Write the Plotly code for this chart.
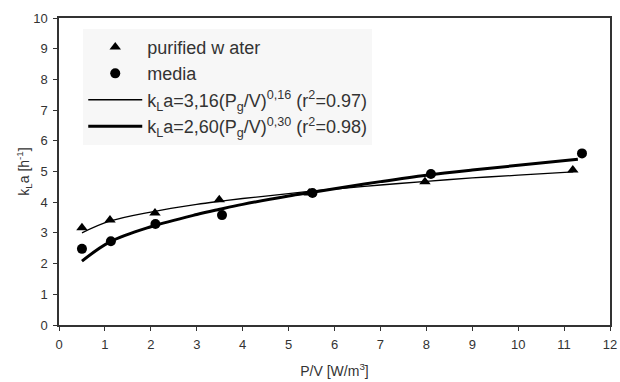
import plotly.graph_objects as go

# measured data
water_x = [0.50, 1.11, 2.09, 3.49, 5.45, 7.97, 11.19]
water_y = [3.17, 3.42, 3.65, 4.08, 4.30, 4.67, 5.05]
media_x = [0.50, 1.13, 2.10, 3.55, 5.52, 8.10, 11.39]
media_y = [2.48, 2.73, 3.29, 3.58, 4.30, 4.92, 5.59]

# fitted curves
fit1_x = [0.5, 1.1, 2.0, 3.0, 3.5, 4.0, 5.0, 5.5, 6.0, 7.0, 8.0, 9.0, 10.0, 11.2]
fit1_y = [3.00, 3.38, 3.68, 3.93, 4.03, 4.12, 4.28, 4.36, 4.43, 4.56, 4.68, 4.79, 4.88, 4.99]
fit2_x = [0.5, 1.1, 2.0, 3.0, 3.5, 4.0, 5.0, 5.5, 6.0, 7.0, 8.0, 9.0, 10.0, 11.3]
fit2_y = [2.08, 2.70, 3.20, 3.60, 3.77, 3.93, 4.20, 4.32, 4.44, 4.67, 4.88, 5.05, 5.20, 5.40]

x_ticks = list(range(0, 13))
y_ticks = list(range(0, 11))

font_family = "Liberation Sans, Arial, sans-serif"

fig = go.Figure()
fig.add_trace(go.Scatter(x=water_x, y=water_y, mode="markers", name="purified w ater",
                         marker=dict(symbol="triangle-up", size=10, color="black")))
fig.add_trace(go.Scatter(x=media_x, y=media_y, mode="markers", name="media",
                         marker=dict(symbol="circle", size=10, color="black")))
fig.add_trace(go.Scatter(x=fit1_x, y=fit1_y, mode="lines",
                         name="k<sub>L</sub>a=3,16(P<sub>g</sub>/V)<sup>0,16</sup> (r<sup>2</sup>=0.97)",
                         line=dict(color="black", width=1.3, shape="spline")))
fig.add_trace(go.Scatter(x=fit2_x, y=fit2_y, mode="lines",
                         name="k<sub>L</sub>a=2,60(P<sub>g</sub>/V)<sup>0,30</sup> (r<sup>2</sup>=0.98)",
                         line=dict(color="black", width=3, shape="spline")))

axis_common = dict(showline=True, linecolor="#333333", linewidth=1.5, mirror=True,
                   ticks="outside", ticklen=4, tickcolor="#333333", tickwidth=1,
                   showgrid=False, zeroline=False, automargin=False,
                   ticklabelstandoff=3, ticklabeloverflow="allow",
                   tickfont=dict(size=13, color="#333333", family=font_family))

fig.update_xaxes(range=[0, 12], tickvals=x_ticks,
                 title=dict(text="P/V [W/m<sup>3</sup>]", font=dict(size=14, color="#333333", family=font_family), standoff=15),
                 **axis_common)
fig.update_yaxes(range=[0, 10], tickvals=y_ticks,
                 title=dict(text="k<sub>L</sub>a [h<sup>-1</sup>]", font=dict(size=14, color="#333333", family=font_family), standoff=0),
                 **axis_common)

fig.update_layout(
    width=620, height=382,
    margin=dict(l=59, r=10, t=18, b=57),
    plot_bgcolor="white", paper_bgcolor="white",
    font=dict(family=font_family, color="#333333"),
    showlegend=True,
    legend=dict(x=0.044, y=0.965, xanchor="left", yanchor="top",
                bgcolor="#f7f7f7", borderwidth=0,
                font=dict(size=18, color="#333333", family=font_family),
                tracegroupgap=0, itemwidth=54),
)

# remove the default page margin so the 620x382 figure fills the window exactly
fig.write_html("out.html",
               config={"displayModeBar": False},
               post_script="document.body.style.margin='0';document.body.style.overflow='hidden';")
